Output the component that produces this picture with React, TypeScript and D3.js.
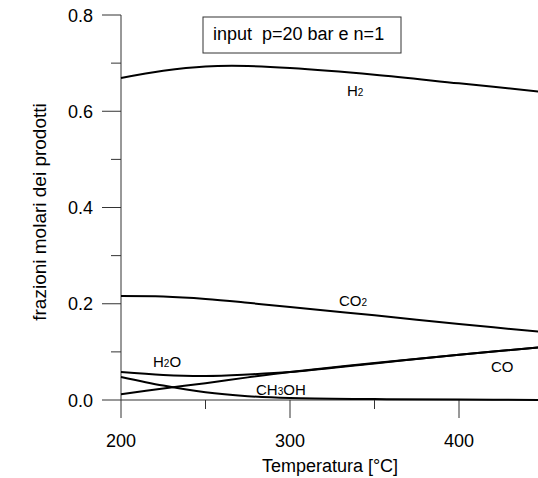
import React from "react";
import * as d3 from "d3";

const temps = [200, 225, 250, 275, 300, 350, 400, 450];
const h2 = [0.669, 0.684, 0.693, 0.694, 0.690, 0.676, 0.658, 0.640];
const co2 = [0.216, 0.215, 0.210, 0.202, 0.193, 0.176, 0.158, 0.141];
const h2o = [0.058, 0.052, 0.050, 0.053, 0.058, 0.076, 0.094, 0.110];
const co = [0.012, 0.024, 0.035, 0.047, 0.058, 0.077, 0.094, 0.110];
const ch3oh = [0.048, 0.030, 0.016, 0.008, 0.004, 0.002, 0.001, 0.0];

const xMajor = [200, 300, 400];
const xMinor = [250, 350];
const yMajor = [0, 0.2, 0.4, 0.6, 0.8];
const yMinor = [0.1, 0.3, 0.5, 0.7];

const W = 538, H = 478;
const FONT = "Liberation Sans, Arial, sans-serif";

export default function App() {
  const x = d3.scaleLinear().domain([200, 450]).range([121, 543.5]);
  const y = d3.scaleLinear().domain([0, 0.8]).range([400, 15]);
  const line = (vals: number[]) =>
    d3.line<number>()
      .x((_, i) => x(temps[i]))
      .y((v) => y(v))
      .curve(d3.curveCatmullRom.alpha(0.5))(vals) as string;
  const series = [h2, co2, h2o, co, ch3oh];
  const ax = "#333";

  return (
    <svg width={W} height={H} style={{ position: "absolute", left: 0, top: 0, background: "#fff" }}
      fontFamily={FONT}>
      <rect width={W} height={H} fill="#fff" />
      <line x1={x(200)} x2={x(200)} y1={y(0.8)} y2={y(0)} stroke={ax} strokeWidth={1} />
      <line x1={x(200)} x2={W} y1={y(0)} y2={y(0)} stroke={ax} strokeWidth={1} />
      {yMajor.map((v) => (
        <g key={"ym" + v}>
          <line x1={102} x2={x(200)} y1={y(v)} y2={y(v)} stroke={ax} />
          <text x={93} y={y(v) + 6.5} textAnchor="end" fontSize={18}>{v.toFixed(1)}</text>
        </g>
      ))}
      {yMinor.map((v) => (
        <line key={"yn" + v} x1={111} x2={x(200)} y1={y(v)} y2={y(v)} stroke={ax} />
      ))}
      {xMajor.map((v) => (
        <g key={"xm" + v}>
          <line x1={x(v)} x2={x(v)} y1={y(0)} y2={418} stroke={ax} />
          <text x={x(v)} y={447} textAnchor="middle" fontSize={18}>{v}</text>
        </g>
      ))}
      {xMinor.map((v) => (
        <line key={"xn" + v} x1={x(v)} x2={x(v)} y1={y(0)} y2={409} stroke={ax} />
      ))}
      <text x={330} y={472} textAnchor="middle" fontSize={18}>Temperatura [°C]</text>
      <text transform={`translate(46,212) rotate(-90)`} textAnchor="middle" fontSize={19}>
        frazioni molari dei prodotti
      </text>
      {series.map((s, i) => (
        <path key={i} d={line(s)} fill="none" stroke="#000" strokeWidth={2} />
      ))}
      <text x={347} y={96} fontSize={15}>H<tspan fontSize={10}>2</tspan></text>
      <text x={339} y={306} fontSize={15}>CO<tspan fontSize={10}>2</tspan></text>
      <text x={153} y={367} fontSize={15}>H<tspan fontSize={10}>2</tspan>O</text>
      <text x={256} y={395} fontSize={15}>CH<tspan fontSize={10}>3</tspan>OH</text>
      <text x={491} y={372} fontSize={15}>CO</text>
      <rect x={203} y={17} width={198} height={36} fill="#fff" stroke={ax} />
      <text x={213} y={40} fontSize={18} xmlSpace="preserve">input  p=20 bar e n=1</text>
    </svg>
  );
}
